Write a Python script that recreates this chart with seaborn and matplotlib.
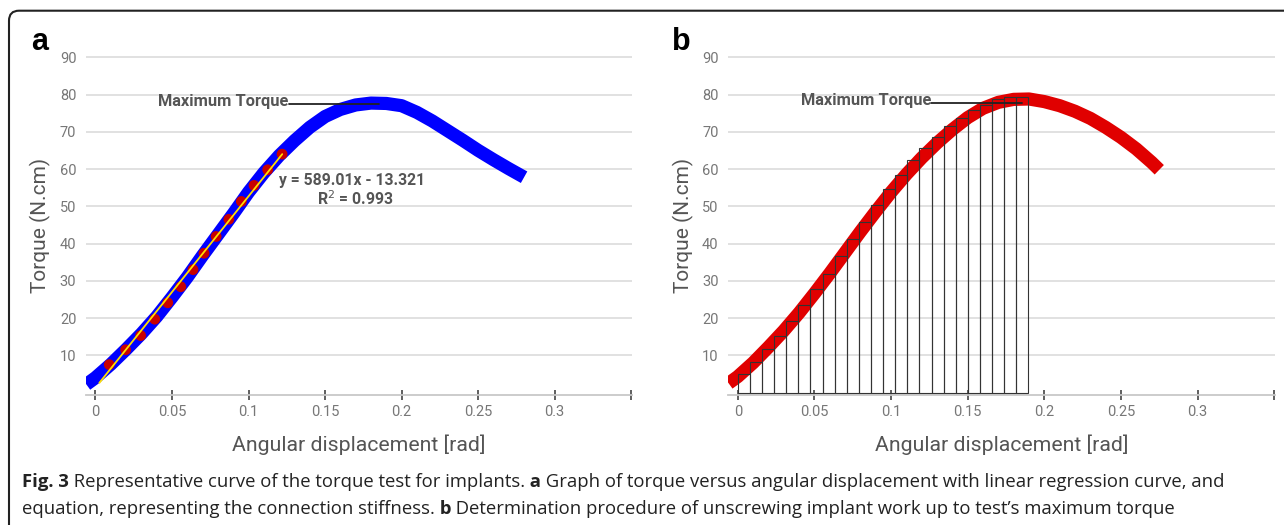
import numpy as np
import matplotlib
matplotlib.use("Agg")
import matplotlib.pyplot as plt
import matplotlib.patches as mpatches
import seaborn as sns

# ---- data ----
# panel a: torque curve (blue)
curve_a_x = [-0.006, 0.0, 0.01, 0.02, 0.03, 0.04, 0.05, 0.06, 0.07, 0.08, 0.09, 0.10,
             0.11, 0.12, 0.13, 0.14, 0.15, 0.16, 0.17, 0.18, 0.19, 0.20, 0.21, 0.22,
             0.23, 0.24, 0.25, 0.26, 0.27, 0.28]
curve_a_y = [2.2, 4.0, 7.6, 11.6, 15.8, 20.4, 25.6, 31.0, 36.8, 42.4, 48.0, 53.8,
             59.0, 63.6, 67.6, 71.2, 74.1, 76.0, 77.2, 77.7, 77.6, 77.0, 75.2, 72.9,
             70.3, 67.7, 65.0, 62.5, 60.1, 57.8]

# points used for the linear regression (red dots)
dots_x = [0.0090, 0.0197, 0.0295, 0.0387, 0.0472, 0.0557, 0.0637, 0.0709, 0.0788,
          0.0871, 0.0953, 0.1036, 0.1125, 0.1219]
dots_y = [7.5, 11.5, 15.3, 19.7, 24.1, 28.4, 33.0, 37.4, 41.9, 46.5, 51.3, 55.6, 59.8, 64.0]

# regression line ends (yellow)
reg_x = [0.0025, 0.1220]
reg_y = [2.6, 64.0]

# panel b: torque curve (red)
curve_b_x = [-0.006, 0.0, 0.01, 0.02, 0.03, 0.04, 0.05, 0.06, 0.07, 0.08, 0.09, 0.10,
             0.11, 0.12, 0.13, 0.14, 0.15, 0.16, 0.17, 0.18, 0.19, 0.20, 0.21, 0.22,
             0.23, 0.24, 0.25, 0.26, 0.27, 0.275]
curve_b_y = [2.5, 4.3, 8.0, 12.2, 16.6, 21.4, 26.6, 32.0, 37.6, 43.2, 48.6, 53.8,
             58.6, 63.0, 67.0, 70.6, 73.8, 76.3, 77.9, 78.7, 78.8, 78.1, 77.0, 75.5,
             73.6, 71.2, 68.5, 65.4, 61.8, 59.8]

# panel b: work-integration strips
strip_width = 0.0079
strip_left = [i * strip_width for i in range(24)]
strip_h = [4.9, 8.1, 11.7, 15.3, 19.3, 23.5, 27.7, 31.9, 36.6, 41.3, 45.8, 50.4,
           54.6, 58.4, 62.4, 65.6, 68.7, 71.6, 73.8, 75.8, 77.2, 78.8, 79.4, 79.4]

x_ticks = [0, 0.05, 0.1, 0.15, 0.2, 0.25, 0.3, 0.35]
x_tick_labels = ["0", "0.05", "0.1", "0.15", "0.2", "0.25", "0.3", ""]
y_ticks = [10, 20, 30, 40, 50, 60, 70, 80, 90]

sns.set_theme(style="white")
plt.rcParams["font.family"] = ["Roboto", "DejaVu Sans"]

W, H = 1284, 525
fig = plt.figure(figsize=(W / 100, H / 100), dpi=100)


def px_axes(left, right, top, bottom):
    return fig.add_axes([left / W, 1 - bottom / H, (right - left) / W, (bottom - top) / H])


def style_axes(ax):
    ax.set_xlim(-0.0062, 0.3505)
    ax.set_ylim(-0.65, 90.5)
    ax.set_yticks(y_ticks)
    ax.set_yticklabels([str(v) for v in y_ticks])
    ax.set_xticks(x_ticks)
    ax.set_xticklabels(x_tick_labels)
    for s in ["left", "right", "top"]:
        ax.spines[s].set_visible(False)
    ax.spines["bottom"].set_color("#c8c8c8")
    ax.spines["bottom"].set_linewidth(1.3)
    ax.grid(axis="y", color="#dcdcdc", linewidth=1.2)
    ax.set_axisbelow(True)
    ax.tick_params(axis="x", direction="inout", length=7, width=1.2, color="#444",
                   labelsize=10.5, labelcolor="#777777", pad=4, bottom=True)
    ax.tick_params(axis="y", length=0, labelsize=10.5, labelcolor="#777777", pad=7)
    ax.set_xlabel("Angular displacement [rad]", fontsize=15.3, color="#555555", labelpad=11)
    ax.set_ylabel("Torque (N.cm)", fontsize=15, color="#555555", labelpad=6)


line_kw = dict(linewidth=9.5, solid_capstyle="butt", solid_joinstyle="round", zorder=3)

# ---- panel a ----
ax1 = px_axes(86, 632, 55.4, 395)
style_axes(ax1)
sns.lineplot(x=curve_a_x, y=curve_a_y, ax=ax1, color="#0000ff", **line_kw)
sns.scatterplot(x=dots_x, y=dots_y, ax=ax1, color="#c80000", s=60, edgecolor="none", zorder=4)
sns.lineplot(x=reg_x, y=reg_y, ax=ax1, color="#ffe000", linewidth=1.3, zorder=5)

ax1.plot([0.1265, 0.185], [77.5, 77.5], color="#222222", linewidth=1.3, zorder=6)
ax1.text(0.1262, 78.0, "Maximum Torque", ha="right", va="center", fontsize=11.8,
         fontweight="bold", color="#555555", zorder=6)
ax1.text(0.1676, 57.0, "y = 589.01x - 13.321", ha="center", va="center", fontsize=11.3,
         fontweight="bold", color="#555555")
ax1.text(0.170, 52.0, "R$^2$ = 0.993", ha="center", va="center", fontsize=11.3,
         fontweight="bold", color="#555555")

# ---- panel b ----
ax2 = px_axes(728.3, 1275, 55.4, 395)
style_axes(ax2)
sns.lineplot(x=curve_b_x, y=curve_b_y, ax=ax2, color="#e00000", **line_kw)
ax2.bar(strip_left, strip_h, width=strip_width, align="edge", facecolor="none",
        edgecolor="#333333", linewidth=0.8, zorder=4)
ax2.plot([0.1263, 0.1854], [77.85, 77.85], color="#222222", linewidth=1.3, zorder=6)
ax2.text(0.126, 78.35, "Maximum Torque", ha="right", va="center", fontsize=11.8,
         fontweight="bold", color="#555555", zorder=6)

# panel letters
fig.text(31 / W, 1 - 42 / H, "a", fontsize=22, fontweight="bold", color="black",
         ha="left", va="center", family=["Liberation Sans", "DejaVu Sans"])
fig.text(672 / W, 1 - 42 / H, "b", fontsize=22, fontweight="bold", color="black",
         ha="left", va="center", family=["Liberation Sans", "DejaVu Sans"])

# frame with rounded corner
frame = mpatches.FancyBboxPatch((9, -30), W + 40, (H - 10.7) + 30,
                                boxstyle="round,pad=0,rounding_size=10",
                                transform=None, facecolor="none", edgecolor="#222222",
                                linewidth=1.5)
fig.patches.append(frame)

# caption with mixed weights
renderer = fig.canvas.get_renderer()


def caption_line(y_px, pieces):
    x = 22 / W
    for txt, weight in pieces:
        t = fig.text(x, 1 - y_px / H, txt, fontsize=13.3, fontweight=weight, color="#222222",
                     ha="left", va="center", family=["Open Sans", "DejaVu Sans"])
        bb = t.get_window_extent(renderer)
        x += bb.width / W


caption_line(482, [("Fig. 3", "bold"),
                   (" Representative curve of the torque test for implants.", "normal"),
                   (" a", "bold"),
                   (" Graph of torque versus angular displacement with linear regression curve, and", "normal")])
caption_line(509, [("equation, representing the connection stiffness.", "normal"),
                   (" b", "bold"),
                   (" Determination procedure of unscrewing implant work up to test\u2019s maximum torque", "normal")])

fig.savefig("out.png", dpi=100)
